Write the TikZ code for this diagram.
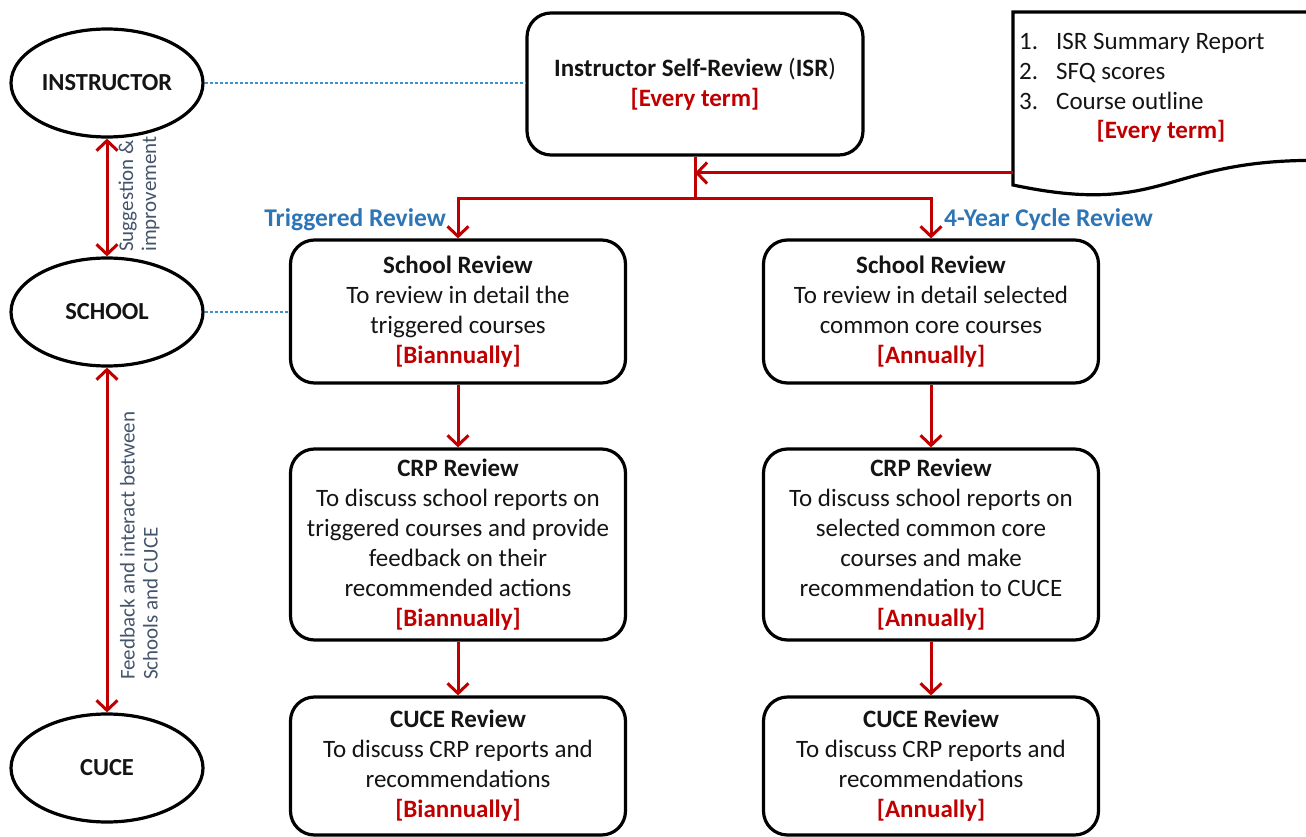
\documentclass[tikz,border=0pt]{standalone}
\usepackage{fontspec}
\setmainfont{Carlito}
\usetikzlibrary{arrows.meta,shapes.geometric}
\definecolor{accred}{HTML}{C00000}
\definecolor{accblue}{HTML}{2E75B6}
\definecolor{slate}{HTML}{44546A}
\definecolor{dotblue}{HTML}{3A93CC}
\definecolor{ink}{HTML}{141414}
\newcommand\termtag[1]{\textcolor{accred}{\bfseries #1}}

\begin{document}
\begin{tikzpicture}[x=1pt,y=-1pt,
  every node/.style={font=\fontsize{25}{30}\selectfont,text=ink},
  actor/.style={ellipse,draw,line width=3.2pt,minimum width=192pt,minimum height=108pt,
    inner sep=0pt,font=\fontsize{24.5}{30}\selectfont\bfseries},
  stage/.style={draw,line width=3.2pt,rounded corners=24pt,align=center,inner sep=0pt,
    minimum width=335pt},
  flow/.style={draw=accred,line width=3pt,-{Straight Barb[length=10pt,width=21pt]}},
  both/.style={draw=accred,line width=3pt,
    {Straight Barb[length=10pt,width=21pt]}-{Straight Barb[length=10pt,width=21pt]}},
  trunk/.style={draw=accred,line width=3pt},
  link/.style={draw=dotblue,line width=2.6pt,dash pattern=on 3pt off 2pt},
  sidenote/.style={rotate=90,anchor=west,align=left,inner sep=0pt,text=slate,
    font=\fontsize{21}{23}\selectfont},
  branch/.style={inner sep=0pt,text=accblue,font=\fontsize{25.5}{30}\selectfont\bfseries}
]
\useasboundingbox (0,0) rectangle (1306,837);

% roles on the left
\node[actor] (instr)  at (107,83)  {INSTRUCTOR};
\node[actor] (school) at (107,312) {SCHOOL};
\node[actor] (cuce)   at (107,768) {CUCE};

% self-review at the top
\node[stage,minimum width=336pt,minimum height=142pt] (isr) at (695,84)
  {\textbf{Instructor Self-Review }(\textbf{ISR})\\\termtag{[Every term]}};

% supporting documents
\draw[line width=3.2pt,fill=white] (1013,12) -- (1313,12) -- (1313,160.4)
  .. controls (1163,160.4) and (1163,216.9) .. (1013,185) -- cycle;
\node[anchor=west,align=left,inner sep=0pt] (docitems) at (1019,71)
  {\makebox[37pt][l]{1.}ISR Summary Report\\
   \makebox[37pt][l]{2.}SFQ scores\\
   \makebox[37pt][l]{3.}Course outline};
\node[inner sep=0pt] (docfreq) at (1161,131) {\termtag{[Every term]}};
\coordinate (docL) at (1013,173);

% triggered review column
\node[stage,minimum height=143pt] (sr1) at (458,311.5)
  {\textbf{School Review}\\To review in detail the\\triggered courses\\\termtag{[Biannually]}};
\node[stage,minimum height=191pt] (crp1) at (458,544.5)
  {\textbf{CRP Review}\\To discuss school reports on\\triggered courses and provide\\feedback on their\\recommended actions\\\termtag{[Biannually]}};
\node[stage,minimum height=138pt] (cr1) at (458,766)
  {\textbf{CUCE Review}\\To discuss CRP reports and\\recommendations\\\termtag{[Biannually]}};

% four-year cycle column
\node[stage,minimum height=143pt] (sr2) at (931,311.5)
  {\textbf{School Review}\\To review in detail selected\\common core courses\\\termtag{[Annually]}};
\node[stage,minimum height=191pt] (crp2) at (931,544.5)
  {\textbf{CRP Review}\\To discuss school reports on\\selected common core\\courses and make\\recommendation to CUCE\\\termtag{[Annually]}};
\node[stage,minimum height=138pt] (cr2) at (931,766)
  {\textbf{CUCE Review}\\To discuss CRP reports and\\recommendations\\\termtag{[Annually]}};

% branch labels
\node[branch,anchor=east] (trig) at (446,220) {Triggered Review};
\node[branch,anchor=west] (cyc)  at (944,220) {4-Year Cycle Review};

% junction below the self-review
\coordinate (j)  at (695,199);
\coordinate (j2) at (695,173);
\draw[trunk] (isr.south) -- (j);
\draw[flow] (docL) -- (j2);
\draw[flow] (j) -| (sr1.north);
\draw[flow] (j) -| (sr2.north);

% flow down each column
\draw[flow] (sr1) -- (crp1);
\draw[flow] (crp1) -- (cr1);
\draw[flow] (sr2) -- (crp2);
\draw[flow] (crp2) -- (cr2);

% dotted associations
\draw[link] (instr.east) -- (instr.east -| isr.west);
\draw[link] (school.east) -- (school.east -| sr1.west);

% exchanges between roles
\draw[both] (instr.south) -- (school.north);
\draw[both] (school.south) -- (cuce.north);
\node[sidenote] (sugg) at (139,252) {Suggestion \&\\improvement};
\node[sidenote] (feed) at (139,680) {Feedback and interact between\\Schools and CUCE};
\end{tikzpicture}
\end{document}
